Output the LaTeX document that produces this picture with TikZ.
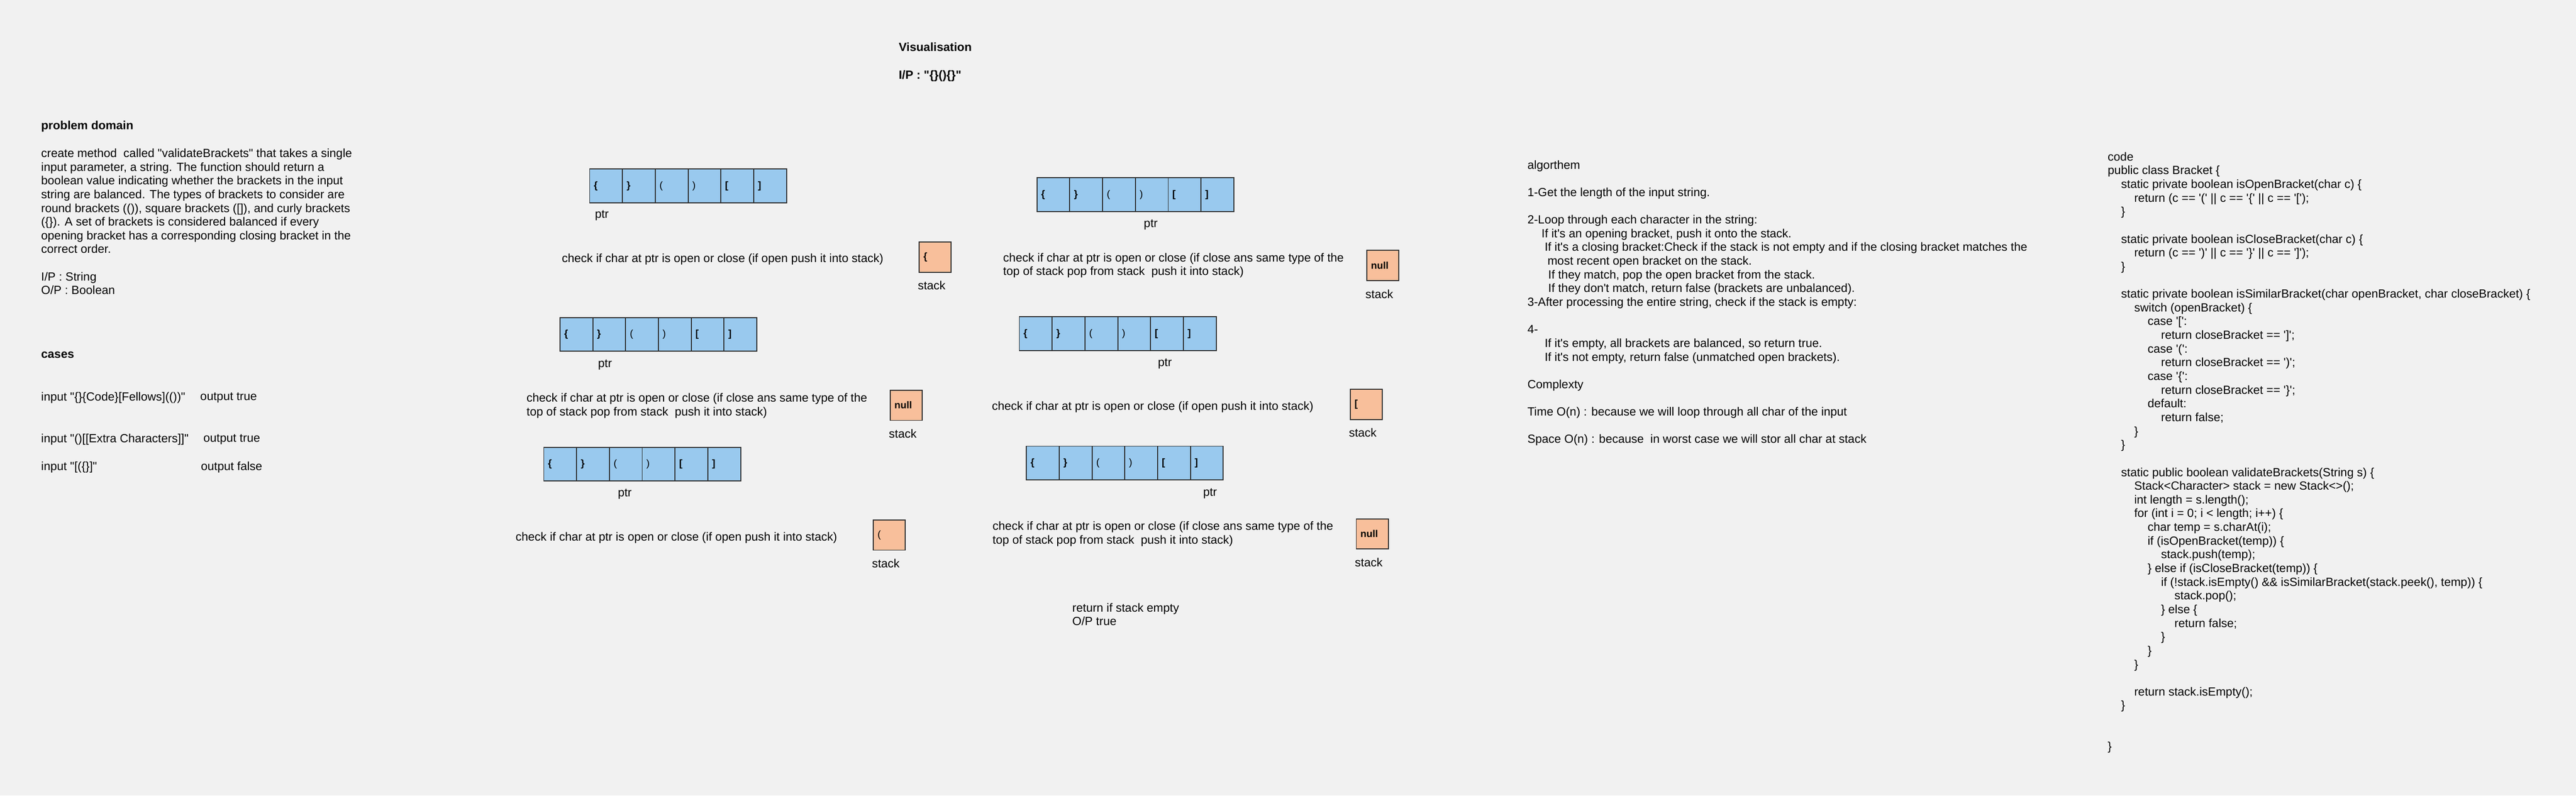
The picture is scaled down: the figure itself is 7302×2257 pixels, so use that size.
\documentclass[tikz,border=0pt]{standalone}
\usepackage{fontspec}
\setmainfont{Liberation Sans}[Ligatures=TeXOff]
\definecolor{bgcol}{RGB}{241,241,241}
\definecolor{cellblue}{RGB}{153,201,238}
\definecolor{stackpeach}{RGB}{248,191,155}
\definecolor{edgecol}{RGB}{45,45,45}
\begin{document}
\begin{tikzpicture}[x=0.1mm,y=-0.1mm,
  txt/.style={font=\fontsize{9.56}{11.07}\selectfont,inner sep=0pt,align=left},
  head/.style={txt,font=\fontsize{9.56}{11.07}\selectfont\bfseries},
  cell/.style={draw=edgecol,line width=0.8pt,fill=cellblue,anchor=north west,minimum width=9.3mm,minimum height=9.6mm,text width=6.9mm,inner xsep=1.2mm,inner ysep=0pt,align=left,font=\fontsize{7.97}{9.5}\selectfont},
  stackbox/.style={cell,fill=stackpeach,minimum width=9.1mm,minimum height=8.6mm,text width=6.7mm}]
\path[fill=bgcol,use as bounding box] (0,0) rectangle (7302,2257);
% problem domain and cases
\node[head,anchor=west] (pdtitle) at (116,358) {problem domain};
\node[txt,anchor=north west] (pdtext) at (116,421) {create method\ \ called "validateBrackets" that takes a single\\input parameter, a string. The function should return a\\boolean value indicating whether the brackets in the input\\string are balanced. The types of brackets to consider are\\round brackets (()), square brackets ([]), and curly brackets\\(\{\}). A set of brackets is considered balanced if every\\opening bracket has a corresponding closing bracket in the\\correct order.\\\\I/P : String\\O/P : Boolean};
\node[head,anchor=west] (cases) at (116,1007) {cases};
\node[txt,anchor=west] (in1) at (116,1128) {input "\{\}\{Code\}[Fellows](())"};
\node[txt,anchor=west] (out1) at (567,1128) {output true};
\node[txt,anchor=west] (in2) at (116,1246) {input "()[[Extra Characters]]"};
\node[txt,anchor=west] (out2) at (576,1246) {output true};
\node[txt,anchor=west] (in3) at (116,1325) {input "[(\{\}]"};
\node[txt,anchor=west] (out3) at (569,1325) {output false};
% visualisation
\node[head,anchor=west] (vis) at (2547,134) {Visualisation};
\node[head,anchor=west] (visin) at (2547,215) {I/P : "\{\}()\{\}"};
% step 1
\node[cell] (a1c1) at (1670,478) {\bfseries\{};
\node[cell] (a1c2) at (1763,478) {\bfseries\}};
\node[cell] (a1c3) at (1856,478) {(};
\node[cell] (a1c4) at (1949,478) {)};
\node[cell] (a1c5) at (2042,478) {\bfseries[};
\node[cell] (a1c6) at (2135,478) {\bfseries]};
\node[txt] (p1) at (1706,611) {ptr};
\node[txt,anchor=west] (chk1) at (1592,736) {check if char at ptr is open or close (if open push it into stack)};
\node[stackbox] (s1) at (2604,685) {\bfseries\{};
\node[txt] (l1) at ([xshift=-1mm,yshift=-3.6mm]s1.south) {stack};
% step 2
\node[cell] (a2c1) at (1586,899) {\bfseries\{};
\node[cell] (a2c2) at (1679,899) {\bfseries\}};
\node[cell] (a2c3) at (1772,899) {(};
\node[cell] (a2c4) at (1865,899) {)};
\node[cell] (a2c5) at (1958,899) {\bfseries[};
\node[cell] (a2c6) at (2051,899) {\bfseries]};
\node[txt] (p2) at (1715,1034) {ptr};
\node[txt,anchor=north west] (chk2) at (1492,1115) {check if char at ptr is open or close (if close ans same type of the\\top of stack pop from stack\ \ push it into stack)};
\node[stackbox] (s2) at (2522,1105) {\bfseries null};
\node[txt] (l2) at ([xshift=-1mm,yshift=-3.6mm]s2.south) {stack};
% step 3
\node[cell] (a3c1) at (1540,1267) {\bfseries\{};
\node[cell] (a3c2) at (1633,1267) {\bfseries\}};
\node[cell] (a3c3) at (1726,1267) {(};
\node[cell] (a3c4) at (1819,1267) {)};
\node[cell] (a3c5) at (1912,1267) {\bfseries[};
\node[cell] (a3c6) at (2005,1267) {\bfseries]};
\node[txt] (p3) at (1771,1401) {ptr};
\node[txt,anchor=west] (chk3) at (1461,1526) {check if char at ptr is open or close (if open push it into stack)};
\node[stackbox] (s3) at (2474,1473) {(};
\node[txt] (l3) at ([xshift=-1mm,yshift=-3.6mm]s3.south) {stack};
% step 4
\node[cell] (a4c1) at (2938,503) {\bfseries\{};
\node[cell] (a4c2) at (3031,503) {\bfseries\}};
\node[cell] (a4c3) at (3124,503) {(};
\node[cell] (a4c4) at (3217,503) {)};
\node[cell] (a4c5) at (3310,503) {\bfseries[};
\node[cell] (a4c6) at (3403,503) {\bfseries]};
\node[txt] (p4) at (3262,637) {ptr};
\node[txt,anchor=north west] (chk4) at (2843,717) {check if char at ptr is open or close (if close ans same type of the\\top of stack pop from stack\ \ push it into stack)};
\node[stackbox] (s4) at (3873,709) {\bfseries null};
\node[txt] (l4) at ([xshift=-1mm,yshift=-3.6mm]s4.south) {stack};
% step 5
\node[cell] (a5c1) at (2888,897) {\bfseries\{};
\node[cell] (a5c2) at (2981,897) {\bfseries\}};
\node[cell] (a5c3) at (3074,897) {(};
\node[cell] (a5c4) at (3167,897) {)};
\node[cell] (a5c5) at (3260,897) {\bfseries[};
\node[cell] (a5c6) at (3353,897) {\bfseries]};
\node[txt] (p5) at (3302,1031) {ptr};
\node[txt,anchor=west] (chk5) at (2811,1154) {check if char at ptr is open or close (if open push it into stack)};
\node[stackbox] (s5) at (3826,1103) {\bfseries[};
\node[txt] (l5) at ([xshift=-1mm,yshift=-3.6mm]s5.south) {stack};
% step 6
\node[cell] (a6c1) at (2908,1264) {\bfseries\{};
\node[cell] (a6c2) at (3001,1264) {\bfseries\}};
\node[cell] (a6c3) at (3094,1264) {(};
\node[cell] (a6c4) at (3187,1264) {)};
\node[cell] (a6c5) at (3280,1264) {\bfseries[};
\node[cell] (a6c6) at (3373,1264) {\bfseries]};
\node[txt] (p6) at (3430,1399) {ptr};
\node[txt,anchor=north west] (chk6) at (2813,1479) {check if char at ptr is open or close (if close ans same type of the\\top of stack pop from stack\ \ push it into stack)};
\node[stackbox] (s6) at (3843,1470) {\bfseries null};
\node[txt] (l6) at ([xshift=-1mm,yshift=-3.6mm]s6.south) {stack};
\node[txt,anchor=north west] (ret) at (3039,1710) {return if stack empty\\O/P true};
% algorithm
\node[txt,anchor=north west] (alg) at (4329,454) {algorthem\\\\1-Get the length of the input string.\\\\2-Loop through each character in the string:\\\hspace*{4mm}If it's an opening bracket, push it onto the stack.\\\hspace*{4.9mm}If it's a closing bracket:Check if the stack is not empty and if the closing bracket matches the\\\hspace*{5.7mm}most recent open bracket on the stack.\\\hspace*{5.9mm}If they match, pop the open bracket from the stack.\\\hspace*{5.9mm}If they don't match, return false (brackets are unbalanced).\\3-After processing the entire string, check if the stack is empty:\\\\4-\\\hspace*{4.9mm}If it's empty, all brackets are balanced, so return true.\\\hspace*{4.9mm}If it's not empty, return false (unmatched open brackets).\\\\Complexty\\\\Time O(n) : because we will loop through all char of the input\\\\Space O(n) : because\ \ in worst case we will stor all char at stack};
% code
\node[txt,anchor=north west] (code) at (5974,431) {code\\public class Bracket \{\\
\hspace*{3.8mm}static private boolean isOpenBracket(char c) \{\\
\hspace*{7.5mm}return (c == '(' || c == '\{' || c == '[');\\
\hspace*{3.8mm}\}\\\\
\hspace*{3.8mm}static private boolean isCloseBracket(char c) \{\\
\hspace*{7.5mm}return (c == ')' || c == '\}' || c == ']');\\
\hspace*{3.8mm}\}\\\\
\hspace*{3.8mm}static private boolean isSimilarBracket(char openBracket, char closeBracket) \{\\
\hspace*{7.5mm}switch (openBracket) \{\\
\hspace*{11.3mm}case '[':\\
\hspace*{15.1mm}return closeBracket == ']';\\
\hspace*{11.3mm}case '(':\\
\hspace*{15.1mm}return closeBracket == ')';\\
\hspace*{11.3mm}case '\{':\\
\hspace*{15.1mm}return closeBracket == '\}';\\
\hspace*{11.3mm}default:\\
\hspace*{15.1mm}return false;\\
\hspace*{7.5mm}\}\\
\hspace*{3.8mm}\}\\\\
\hspace*{3.8mm}static public boolean validateBrackets(String s) \{\\
\hspace*{7.5mm}Stack<Character> stack = new Stack<>();\\
\hspace*{7.5mm}int length = s.length();\\
\hspace*{7.5mm}for (int i = 0; i < length; i++) \{\\
\hspace*{11.3mm}char temp = s.charAt(i);\\
\hspace*{11.3mm}if (isOpenBracket(temp)) \{\\
\hspace*{15.1mm}stack.push(temp);\\
\hspace*{11.3mm}\} else if (isCloseBracket(temp)) \{\\
\hspace*{15.1mm}if (!stack.isEmpty() \&\& isSimilarBracket(stack.peek(), temp)) \{\\
\hspace*{18.9mm}stack.pop();\\
\hspace*{15.1mm}\} else \{\\
\hspace*{18.9mm}return false;\\
\hspace*{15.1mm}\}\\
\hspace*{11.3mm}\}\\
\hspace*{7.5mm}\}\\\\
\hspace*{7.5mm}return stack.isEmpty();\\
\hspace*{3.8mm}\}\\\\\\
\}};
\end{tikzpicture}
\end{document}
